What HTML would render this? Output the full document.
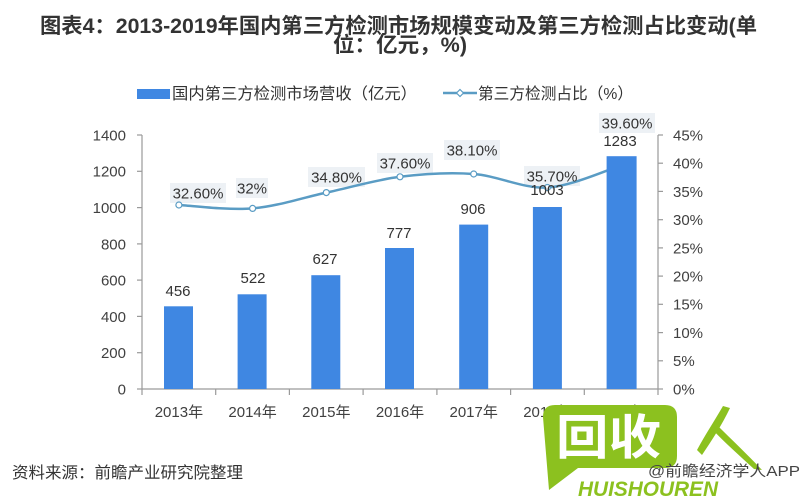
<!DOCTYPE html>
<html><head><meta charset="utf-8"><style>
html,body{margin:0;padding:0;background:#fff;}
svg{display:block;}
text{font-family:"Liberation Sans","Noto Sans CJK SC",sans-serif;}
</style></head><body>
<svg width="800" height="500" viewBox="0 0 800 500" xmlns="http://www.w3.org/2000/svg">
<rect width="800" height="500" fill="#fff"/>
<!-- Title -->
<text x="40" y="33" font-size="21" font-weight="bold" fill="#333" textLength="717" lengthAdjust="spacingAndGlyphs">图表4：2013-2019年国内第三方检测市场规模变动及第三方检测占比变动(单</text>
<text x="333" y="52" font-size="21" font-weight="bold" fill="#333" textLength="134" lengthAdjust="spacingAndGlyphs">位：亿元，%)</text>

<!-- Legend -->
<rect x="137" y="89" width="33" height="10" fill="#3f87e2"/>
<text x="172" y="99" font-size="16" fill="#333" textLength="245" lengthAdjust="spacingAndGlyphs">国内第三方检测市场营收（亿元）</text>
<line x1="443" y1="93" x2="477" y2="93" stroke="#5a9cc4" stroke-width="2.5"/>
<path d="M460,89.5 L463.5,93 L460,96.5 L456.5,93 Z" fill="#fff" stroke="#5a9cc4" stroke-width="1.2"/>
<text x="478" y="99" font-size="16" fill="#333" textLength="155" lengthAdjust="spacingAndGlyphs">第三方检测占比（%）</text>

<!-- Axes -->
<g stroke="#9a9a9a" stroke-width="1.2" fill="none">
<line x1="142" y1="135" x2="142" y2="389"/>
<line x1="658" y1="135" x2="658" y2="389"/>
<line x1="142" y1="389" x2="658" y2="389"/>
<!-- left ticks -->
<line x1="137" y1="389" x2="142" y2="389"/>
<line x1="137" y1="352.7" x2="142" y2="352.7"/>
<line x1="137" y1="316.4" x2="142" y2="316.4"/>
<line x1="137" y1="280.1" x2="142" y2="280.1"/>
<line x1="137" y1="243.9" x2="142" y2="243.9"/>
<line x1="137" y1="207.6" x2="142" y2="207.6"/>
<line x1="137" y1="171.3" x2="142" y2="171.3"/>
<line x1="137" y1="135" x2="142" y2="135"/>
<!-- right ticks -->
<line x1="658" y1="389" x2="663" y2="389"/>
<line x1="658" y1="360.8" x2="663" y2="360.8"/>
<line x1="658" y1="332.6" x2="663" y2="332.6"/>
<line x1="658" y1="304.3" x2="663" y2="304.3"/>
<line x1="658" y1="276.1" x2="663" y2="276.1"/>
<line x1="658" y1="247.9" x2="663" y2="247.9"/>
<line x1="658" y1="219.7" x2="663" y2="219.7"/>
<line x1="658" y1="191.4" x2="663" y2="191.4"/>
<line x1="658" y1="163.2" x2="663" y2="163.2"/>
<line x1="658" y1="135" x2="663" y2="135"/>
<!-- x ticks -->
<line x1="142" y1="389" x2="142" y2="395"/>
<line x1="215.7" y1="389" x2="215.7" y2="395"/>
<line x1="289.4" y1="389" x2="289.4" y2="395"/>
<line x1="363.1" y1="389" x2="363.1" y2="395"/>
<line x1="436.9" y1="389" x2="436.9" y2="395"/>
<line x1="510.6" y1="389" x2="510.6" y2="395"/>
<line x1="584.3" y1="389" x2="584.3" y2="395"/>
<line x1="658" y1="389" x2="658" y2="395"/>
</g>

<!-- Left axis labels -->
<g font-size="15" fill="#404040" text-anchor="end">
<text x="126" y="394.4">0</text>
<text x="126" y="358.1">200</text>
<text x="126" y="321.8">400</text>
<text x="126" y="285.5">600</text>
<text x="126" y="249.3">800</text>
<text x="126" y="213">1000</text>
<text x="126" y="176.7">1200</text>
<text x="126" y="140.4">1400</text>
</g>
<!-- Right axis labels -->
<g font-size="15" fill="#404040">
<text x="673" y="394.4">0%</text>
<text x="673" y="366.2">5%</text>
<text x="673" y="338">10%</text>
<text x="673" y="309.7">15%</text>
<text x="673" y="281.5">20%</text>
<text x="673" y="253.3">25%</text>
<text x="673" y="225.1">30%</text>
<text x="673" y="196.8">35%</text>
<text x="673" y="168.6">40%</text>
<text x="673" y="140.4">45%</text>
</g>
<!-- X labels -->
<g font-size="15" fill="#404040" text-anchor="middle">
<text x="178.9" y="417">2013年</text>
<text x="252.6" y="417">2014年</text>
<text x="326.3" y="417">2015年</text>
<text x="400" y="417">2016年</text>
<text x="473.7" y="417">2017年</text>
<text x="547.4" y="417">2018年</text>
<text x="621.1" y="417">2019年</text>
</g>

<!-- Percent label backgrounds -->
<g fill="#edf1f5">
<rect x="170" y="183" width="56" height="20"/>
<rect x="236" y="178" width="32" height="20"/>
<rect x="308" y="167" width="57" height="20"/>
<rect x="377" y="153" width="56" height="20"/>
<rect x="444" y="140" width="56" height="20"/>
<rect x="524" y="166" width="56" height="20"/>
<rect x="599" y="113" width="56" height="20"/>
</g>

<!-- Line -->
<path d="M178.9,205 C191.2,205.6 228,210.5 252.6,208.4 C277.2,206.3 301.7,197.9 326.3,192.6 C350.9,187.3 375.4,179.9 400,176.8 C424.6,173.7 449.1,172.2 473.7,174 C498.3,175.8 522.8,188.9 547.4,187.5 C572,186.1 608.8,169.2 621.1,165.5" fill="none" stroke="#5a9cc4" stroke-width="2.5"/>
<g fill="#fff" stroke="#5a9cc4" stroke-width="1.2">
<circle cx="178.9" cy="205" r="3"/>
<circle cx="252.6" cy="208.4" r="3"/>
<circle cx="326.3" cy="192.6" r="3"/>
<circle cx="400" cy="176.8" r="3"/>
<circle cx="473.7" cy="174" r="3"/>
<circle cx="547.4" cy="187.5" r="3"/>
</g>

<!-- Bars -->
<g fill="#3f87e2">
<rect x="164" y="306.3" width="29" height="82.7"/>
<rect x="237.6" y="294.3" width="29" height="94.7"/>
<rect x="311.3" y="275.2" width="29" height="113.8"/>
<rect x="385" y="248" width="29" height="141"/>
<rect x="459.2" y="224.6" width="29" height="164.4"/>
<rect x="532.9" y="207" width="29" height="182"/>
<rect x="606.6" y="156.2" width="30" height="232.8"/>
</g>

<!-- Bar labels -->
<g font-size="15" fill="#333" text-anchor="middle">
<text x="178" y="296">456</text>
<text x="253" y="283">522</text>
<text x="325" y="264">627</text>
<text x="399" y="238">777</text>
<text x="473" y="214">906</text>
<text x="547" y="195">1003</text>
<text x="620" y="146">1283</text>
</g>
<!-- Percent labels -->
<g font-size="15" fill="#333" text-anchor="middle">
<text x="198" y="198.5">32.60%</text>
<text x="252" y="193.5">32%</text>
<text x="336.5" y="182.5">34.80%</text>
<text x="405" y="168.5">37.60%</text>
<text x="472" y="155.5">38.10%</text>
<text x="552" y="181.5">35.70%</text>
<text x="627" y="128.5">39.60%</text>
</g>

<!-- Footer -->
<text x="12" y="478" font-size="16" fill="#333" textLength="231" lengthAdjust="spacingAndGlyphs">资料来源：前瞻产业研究院整理</text>

<!-- Green logo -->
<path d="M555,405 H665 Q677,405 677,417 V456 Q677,468 665,468 H578 L549,490 L543,417 Q543,405 555,405 Z" fill="#8cc11f"/>
<text x="556" y="454" font-size="48" font-weight="bold" fill="#fff" textLength="105" lengthAdjust="spacingAndGlyphs" style="font-family:'Noto Sans CJK SC',sans-serif">回收</text>
<path d="M697,450 C705,435 715,420 723,406 L730,408 C722,425 712,440 702,455 Z" fill="#8cc11f"/>
<path d="M711,428 L716,424 C732,440 748,455 762,470 L754,469 C740,456 724,442 711,428 Z" fill="#8cc11f"/>
<text x="578" y="496" font-size="21" font-weight="bold" font-style="italic" fill="#8cc11f" textLength="140" lengthAdjust="spacingAndGlyphs">HUISHOUREN</text>
<text x="648" y="476" font-size="15" fill="#444" textLength="152" lengthAdjust="spacingAndGlyphs">@前瞻经济学人APP</text>
</svg>
</body></html>
